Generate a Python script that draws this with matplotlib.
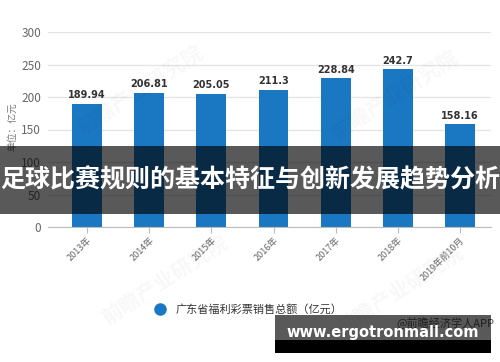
import matplotlib.pyplot as plt
from matplotlib.lines import Line2D
from matplotlib.patches import Rectangle
import numpy as np

plt.rcParams['font.family'] = ['Noto Sans CJK SC', 'DejaVu Sans']

years = ["2013年", "2014年", "2015年", "2016年", "2017年", "2018年", "2019年前10月"]
sales = [189.94, 206.81, 205.05, 211.3, 228.84, 242.7, 158.16]
value_labels = ["189.94", "206.81", "205.05", "211.3", "228.84", "242.7", "158.16"]
yticks = [0, 50, 100, 150, 200, 250, 300]

W, H = 500, 362
BLUE = '#1a78c2'


def fx(x):
    return x / W


def fy(y):
    return 1 - y / H


fig = plt.figure(figsize=(5, 3.62), dpi=100)
ax = fig.add_axes([fx(48), fy(227), fx(491) - fx(48), fy(32) - fy(227)])

x = np.arange(len(years))
ax.bar(x, sales, width=0.48, color=BLUE, zorder=2)
for xi, v, lab in zip(x, sales, value_labels):
    ax.text(xi, v + 5, lab, ha='center', va='bottom', fontsize=7,
            fontweight='bold', color='#333333', family=['DejaVu Sans'])

ax.set_ylim(0, 300)
ax.set_xlim(-0.5 - 8 / 62, 6.5)
ax.set_yticks(yticks)
ax.set_yticklabels([str(t) for t in yticks], fontsize=8.5, color='#666666')
ax.set_xticks(x)
ax.set_xticklabels(years, rotation=45, ha='right', va='top',
                   rotation_mode='anchor', fontsize=6.5, color='#666666')
ax.tick_params(axis='y', length=0, pad=5)
ax.tick_params(axis='x', length=4, color='#bbbbbb', pad=2)
ax.grid(axis='y', color='#e3e3e3', linewidth=0.9, zorder=0)
for s in ['top', 'right', 'left']:
    ax.spines[s].set_visible(False)
ax.spines['bottom'].set_color('#bbbbbb')

fig.text(fx(12), fy(127), "单位：亿元", rotation=90, ha='center', va='center',
         fontsize=7, color='#777777')

# legend
handle = Line2D([], [], marker='o', ls='', color=BLUE, markersize=8)
fig.legend([handle], ["广东省福利彩票销售总额（亿元）"], loc='center',
           bbox_to_anchor=(fx(246), fy(309)), frameon=False, fontsize=8,
           handletextpad=0.4, labelcolor='#333333')

# faint watermarks
for cx, cy in [(140, 90), (395, 95), (165, 280), (400, 290)]:
    fig.text(fx(cx), fy(cy), "前瞻产业研究院", rotation=33, ha='center', va='center',
             fontsize=15, fontweight='bold', color='#000000', alpha=0.03)

fig.text(fx(445), fy(323), "@前瞻经济学人APP", ha='center', va='center',
         fontsize=8, color='#555555')

# dark banner with title
fig.patches.append(Rectangle((0, fy(214)), 1, fy(146) - fy(214), transform=fig.transFigure,
                             facecolor='black', alpha=0.65, zorder=5))
fig.text(0.5, fy(180), "足球比赛规则的基本特征与创新发展趋势分析", ha='center', va='center',
         fontsize=18, fontweight='bold', color='white', zorder=6)

# site box bottom right
fig.patches.append(Rectangle((fx(275), fy(340)), fx(491) - fx(275), fy(315) - fy(340),
                             transform=fig.transFigure, facecolor='black', alpha=0.65, zorder=5))
fig.patches.append(Rectangle((fx(275), fy(353)), fx(491) - fx(275), fy(340) - fy(353),
                             transform=fig.transFigure, facecolor='black', zorder=5))
fig.text(fx(383), fy(333), "www.ergotronmall.com", ha='center', va='center',
         fontsize=10.5, fontweight='bold', color='white', zorder=6, family=['DejaVu Sans'])

fig.savefig("out.png", dpi=100)
